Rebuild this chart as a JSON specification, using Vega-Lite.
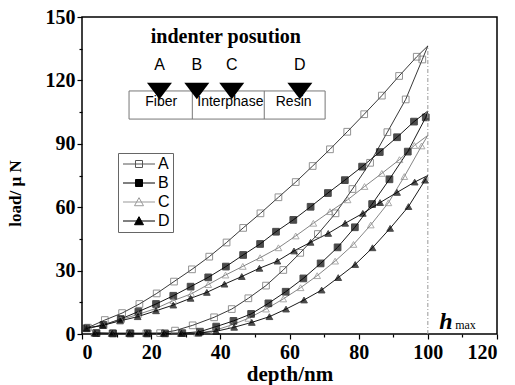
{
  "$schema": "https://vega.github.io/schema/vega-lite/v6.json",
  "width": 415,
  "height": 317,
  "autosize": {"type": "none"},
  "padding": {"left": 82, "top": 17, "right": 18, "bottom": 51},
  "background": "white",
  "config": {
    "view": {"stroke": "black", "strokeWidth": 1.5},
    "axis": {
      "labelFont": "Liberation Serif", "labelFontWeight": "bold", "labelFontSize": 20, "labelColor": "black",
      "tickColor": "black", "tickWidth": 1.2, "grid": false, "domain": false,
      "titleFont": "Liberation Serif", "titleFontWeight": "bold", "titleFontSize": 21, "titleColor": "black"
    }
  },
  "data": {"values": [
    {"s":"A","x":1.7,"y":3.0,"i":0},{"s":"A","x":6.6,"y":6.6,"i":1},{"s":"A","x":11.6,"y":9.9,"i":2},{"s":"A","x":16.6,"y":14.2,"i":3},{"s":"A","x":21.6,"y":19.2,"i":4},{"s":"A","x":26.6,"y":24.8,"i":5},{"s":"A","x":31.8,"y":30.6,"i":6},{"s":"A","x":36.8,"y":36.6,"i":7},{"s":"A","x":41.8,"y":43.3,"i":8},{"s":"A","x":46.6,"y":50.2,"i":9},{"s":"A","x":51.6,"y":57.1,"i":10},{"s":"A","x":56.8,"y":64.7,"i":11},{"s":"A","x":61.8,"y":71.9,"i":12},{"s":"A","x":66.7,"y":79.5,"i":13},{"s":"A","x":71.7,"y":87.4,"i":14},{"s":"A","x":76.7,"y":95.7,"i":15},{"s":"A","x":81.6,"y":104.0,"i":16},{"s":"A","x":86.7,"y":112.8,"i":17},{"s":"A","x":91.7,"y":122.1,"i":18},{"s":"A","x":96.8,"y":131.2,"i":19},{"s":"A","x":100,"y":136.3,"i":20},
    {"s":"A","x":98.4,"y":129.9,"i":21},{"s":"A","x":93.6,"y":111.0,"i":22},{"s":"A","x":88.3,"y":95.5,"i":23},{"s":"A","x":83.3,"y":81.0,"i":24},{"s":"A","x":78.2,"y":68.6,"i":25},{"s":"A","x":73.3,"y":57.1,"i":26},{"s":"A","x":68.2,"y":47.3,"i":27},{"s":"A","x":63.1,"y":38.4,"i":28},{"s":"A","x":58.2,"y":30.3,"i":29},{"s":"A","x":53.2,"y":22.9,"i":30},{"s":"A","x":48.1,"y":16.9,"i":31},{"s":"A","x":43.3,"y":11.8,"i":32},{"s":"A","x":38.2,"y":7.9,"i":33},{"s":"A","x":32.0,"y":4.1,"i":34},{"s":"A","x":26.9,"y":1.6,"i":35},{"s":"A","x":22.6,"y":0.4,"i":36},{"s":"A","x":18.6,"y":0.3,"i":37},{"s":"A","x":13.8,"y":0.3,"i":38},{"s":"A","x":8.8,"y":0.3,"i":39},{"s":"A","x":4.0,"y":0.4,"i":40},
    {"s":"B","x":1.3,"y":2.7,"i":0},{"s":"B","x":6.2,"y":4.3,"i":1},{"s":"B","x":11.2,"y":7.1,"i":2},{"s":"B","x":16.3,"y":10.6,"i":3},{"s":"B","x":21.4,"y":14.2,"i":4},{"s":"B","x":26.4,"y":18.1,"i":5},{"s":"B","x":31.4,"y":22.4,"i":6},{"s":"B","x":36.5,"y":26.8,"i":7},{"s":"B","x":41.6,"y":31.9,"i":8},{"s":"B","x":46.6,"y":37.4,"i":9},{"s":"B","x":51.5,"y":42.6,"i":10},{"s":"B","x":56.1,"y":48.4,"i":11},{"s":"B","x":61.1,"y":54.0,"i":12},{"s":"B","x":66.1,"y":60.2,"i":13},{"s":"B","x":71.1,"y":66.7,"i":14},{"s":"B","x":76.0,"y":72.8,"i":15},{"s":"B","x":81.0,"y":79.2,"i":16},{"s":"B","x":86.1,"y":86.1,"i":17},{"s":"B","x":91.1,"y":93.1,"i":18},{"s":"B","x":96.0,"y":100.5,"i":19},{"s":"B","x":100,"y":105.5,"i":20},
    {"s":"B","x":99.4,"y":102.5,"i":21},{"s":"B","x":94.2,"y":86.3,"i":22},{"s":"B","x":88.9,"y":73.2,"i":23},{"s":"B","x":83.9,"y":61.5,"i":24},{"s":"B","x":78.9,"y":50.5,"i":25},{"s":"B","x":73.9,"y":41.0,"i":26},{"s":"B","x":69.0,"y":33.4,"i":27},{"s":"B","x":64.0,"y":26.3,"i":28},{"s":"B","x":58.9,"y":20.0,"i":29},{"s":"B","x":53.9,"y":14.5,"i":30},{"s":"B","x":48.9,"y":9.5,"i":31},{"s":"B","x":43.8,"y":6.2,"i":32},{"s":"B","x":38.8,"y":3.5,"i":33},{"s":"B","x":34.1,"y":1.1,"i":34},{"s":"B","x":29.0,"y":0.4,"i":35},{"s":"B","x":24.0,"y":0.3,"i":36},{"s":"B","x":19.0,"y":0.3,"i":37},{"s":"B","x":14.0,"y":0.3,"i":38},{"s":"B","x":9.0,"y":0.3,"i":39},{"s":"B","x":4.2,"y":0.4,"i":40},
    {"s":"C","x":1.3,"y":2.7,"i":0},{"s":"C","x":6.2,"y":4.1,"i":1},{"s":"C","x":11.2,"y":6.8,"i":2},{"s":"C","x":16.3,"y":9.3,"i":3},{"s":"C","x":21.4,"y":12.1,"i":4},{"s":"C","x":26.4,"y":15.8,"i":5},{"s":"C","x":31.6,"y":19.0,"i":6},{"s":"C","x":36.5,"y":23.4,"i":7},{"s":"C","x":41.5,"y":27.9,"i":8},{"s":"C","x":46.5,"y":32.0,"i":9},{"s":"C","x":51.5,"y":36.1,"i":10},{"s":"C","x":56.8,"y":40.8,"i":11},{"s":"C","x":61.8,"y":46.4,"i":12},{"s":"C","x":66.9,"y":52.4,"i":13},{"s":"C","x":71.7,"y":57.9,"i":14},{"s":"C","x":76.8,"y":63.5,"i":15},{"s":"C","x":81.7,"y":69.8,"i":16},{"s":"C","x":86.7,"y":76.0,"i":17},{"s":"C","x":91.8,"y":82.5,"i":18},{"s":"C","x":96.1,"y":89.2,"i":19},{"s":"C","x":100,"y":94.0,"i":20},
    {"s":"C","x":98.2,"y":89.0,"i":21},{"s":"C","x":93.2,"y":74.5,"i":22},{"s":"C","x":88.6,"y":62.1,"i":23},{"s":"C","x":83.5,"y":51.6,"i":24},{"s":"C","x":78.5,"y":42.4,"i":25},{"s":"C","x":73.2,"y":34.5,"i":26},{"s":"C","x":68.0,"y":27.6,"i":27},{"s":"C","x":63.2,"y":21.9,"i":28},{"s":"C","x":58.2,"y":16.6,"i":29},{"s":"C","x":53.2,"y":11.8,"i":30},{"s":"C","x":48.1,"y":7.4,"i":31},{"s":"C","x":43.3,"y":4.3,"i":32},{"s":"C","x":38.2,"y":1.6,"i":33},{"s":"C","x":33.3,"y":0.4,"i":34},{"s":"C","x":28.5,"y":0.3,"i":35},{"s":"C","x":23.5,"y":0.3,"i":36},{"s":"C","x":18.5,"y":0.3,"i":37},{"s":"C","x":13.5,"y":0.3,"i":38},{"s":"C","x":8.5,"y":0.3,"i":39},{"s":"C","x":3.5,"y":0.4,"i":40},
    {"s":"D","x":1.3,"y":2.7,"i":0},{"s":"D","x":6.0,"y":4.1,"i":1},{"s":"D","x":11.0,"y":6.2,"i":2},{"s":"D","x":16.1,"y":8.2,"i":3},{"s":"D","x":21.4,"y":11.0,"i":4},{"s":"D","x":26.4,"y":13.7,"i":5},{"s":"D","x":31.4,"y":16.9,"i":6},{"s":"D","x":36.1,"y":19.7,"i":7},{"s":"D","x":41.2,"y":23.6,"i":8},{"s":"D","x":46.2,"y":27.2,"i":9},{"s":"D","x":51.3,"y":31.1,"i":10},{"s":"D","x":56.5,"y":34.5,"i":11},{"s":"D","x":61.3,"y":39.3,"i":12},{"s":"D","x":66.1,"y":43.4,"i":13},{"s":"D","x":71.2,"y":47.6,"i":14},{"s":"D","x":76.1,"y":52.4,"i":15},{"s":"D","x":81.2,"y":57.1,"i":16},{"s":"D","x":86.2,"y":62.2,"i":17},{"s":"D","x":91.1,"y":67.0,"i":18},{"s":"D","x":96.2,"y":71.9,"i":19},{"s":"D","x":100,"y":75.0,"i":20},
    {"s":"D","x":99.2,"y":72.8,"i":21},{"s":"D","x":94.4,"y":60.3,"i":22},{"s":"D","x":89.1,"y":50.0,"i":23},{"s":"D","x":84.0,"y":40.8,"i":24},{"s":"D","x":79.0,"y":32.9,"i":25},{"s":"D","x":74.1,"y":26.7,"i":26},{"s":"D","x":69.3,"y":20.8,"i":27},{"s":"D","x":64.2,"y":16.1,"i":28},{"s":"D","x":59.0,"y":11.8,"i":29},{"s":"D","x":54.2,"y":8.2,"i":30},{"s":"D","x":49.1,"y":5.5,"i":31},{"s":"D","x":44.0,"y":3.2,"i":32},{"s":"D","x":38.8,"y":1.3,"i":33},{"s":"D","x":33.7,"y":0.4,"i":34},{"s":"D","x":28.7,"y":0.3,"i":35},{"s":"D","x":23.7,"y":0.3,"i":36},{"s":"D","x":18.7,"y":0.3,"i":37},{"s":"D","x":13.7,"y":0.3,"i":38},{"s":"D","x":8.7,"y":0.3,"i":39},{"s":"D","x":3.7,"y":0.4,"i":40}
  ]},
  "layer": [
    {
      "mark": {"type": "line", "strokeWidth": 0.9},
      "encoding": {
        "x": {"field": "x", "type": "quantitative", "scale": {"domain": [0, 120], "nice": false},
              "axis": {"values": [0, 20, 40, 60, 80, 100, 120], "title": "depth/nm", "tickSize": 5, "labelPadding": 3, "titleY": 40, "titleBaseline": "middle", "labelOverlap": false}},
        "y": {"field": "y", "type": "quantitative", "scale": {"domain": [0, 150], "nice": false},
              "axis": {"values": [0, 30, 60, 90, 120, 150], "title": "load/ μ N", "titleFontSize": 17, "tickSize": 5, "labelPadding": 2, "titleX": -67, "titleY": 176, "titleAlign": "center", "titleBaseline": "middle", "labelOverlap": false}},
        "color": {"field": "s", "type": "nominal", "scale": {"domain": ["A", "B", "C", "D"], "range": ["#222222", "#000000", "#777777", "#000000"]}, "legend": null},
        "order": {"field": "i", "type": "quantitative"}
      }
    },
    {
      "transform": [{"filter": "datum.x < 100"}],
      "mark": {"type": "point", "filled": true, "strokeWidth": 1},
      "encoding": {
        "x": {"field": "x", "type": "quantitative", "axis": {"orient": "bottom", "values": [10, 30, 50, 70, 90, 110], "labels": false, "tickSize": 3, "title": null}},
        "y": {"field": "y", "type": "quantitative", "axis": {"orient": "left", "values": [15, 45, 75, 105, 135], "labels": false, "tickSize": 3, "title": null}},
        "shape": {"field": "s", "type": "nominal", "scale": {"domain": ["A", "B", "C", "D"], "range": ["square", "square", "triangle-up", "triangle-up"]}, "legend": null},
        "fill": {"field": "s", "type": "nominal", "scale": {"domain": ["A", "B", "C", "D"], "range": ["transparent", "#000000", "transparent", "#000000"]}, "legend": null},
        "stroke": {"field": "s", "type": "nominal", "scale": {"domain": ["A", "B", "C", "D"], "range": ["#666666", "#000000", "#888888", "#000000"]}, "legend": null},
        "size": {"field": "s", "type": "nominal", "scale": {"domain": ["A", "B", "C", "D"], "range": [45, 45, 60, 60]}, "legend": null}
      }
    },
    {
      "transform": [{"filter": "datum.i == 0"}],
      "mark": {"type": "point", "opacity": 0, "filled": true},
      "encoding": {
        "x": {"field": "x", "type": "quantitative", "axis": null},
        "y": {"field": "y", "type": "quantitative", "axis": null},
        "shape": {"field": "s", "type": "nominal",
          "scale": {"domain": ["A", "B", "C", "D"], "range": [
            "M-1,0H4.333M1.083,-0.583H2.25V0.583H1.083Z",
            "M-1,0H4.333M1.083,-0.583H2.25V0.583H1.083Z",
            "M-1,0H4.333M1.667,-0.72L2.417,0.62L0.917,0.62Z",
            "M-1,0H4.333M1.667,-0.72L2.417,0.62L0.917,0.62Z"]},
          "legend": {
            "title": null, "orient": "none", "legendX": 36, "legendY": 136, "direction": "vertical",
            "strokeColor": "#666666", "padding": 3, "rowPadding": 3,
            "symbolSize": 144, "symbolStrokeWidth": 1, "symbolOpacity": 1,
            "labelFont": "Liberation Sans", "labelFontSize": 16, "labelColor": "black", "labelOffset": 21
          }},
        "fill": {"field": "s", "type": "nominal", "scale": {"domain": ["A", "B", "C", "D"], "range": ["transparent", "#000000", "transparent", "#000000"]},
          "legend": {"title": null, "orient": "none", "legendX": 36, "legendY": 136, "direction": "vertical", "symbolSize": 144, "symbolOpacity": 1}},
        "stroke": {"field": "s", "type": "nominal", "scale": {"domain": ["A", "B", "C", "D"], "range": ["#555555", "#000000", "#999999", "#000000"]},
          "legend": {"title": null, "orient": "none", "legendX": 36, "legendY": 136, "direction": "vertical", "symbolSize": 144, "symbolOpacity": 1, "symbolStrokeWidth": 1}}
      }
    },
    {
      "data": {"values": [{}]},
      "mark": {"type": "rule", "stroke": "#999999", "strokeDash": [4, 2, 1, 2], "strokeWidth": 1},
      "encoding": {
        "x": {"datum": 100, "type": "quantitative", "axis": null},
        "y": {"datum": 0, "type": "quantitative", "axis": null},
        "y2": {"datum": 136}
      }
    },
    {
      "data": {"values": [{}]},
      "mark": {"type": "text", "text": "indenter posution", "font": "Liberation Serif", "fontWeight": "bold", "fontSize": 20, "align": "center", "baseline": "alphabetic", "color": "black"},
      "encoding": {
        "x": {"datum": 41.6, "type": "quantitative", "axis": null},
        "y": {"datum": 137.8, "type": "quantitative", "axis": null}
      }
    },
    {
      "data": {"values": [{}]},
      "mark": {"type": "rect", "fill": "transparent", "stroke": "#777777", "strokeWidth": 1},
      "encoding": {
        "x": {"datum": 13.6, "type": "quantitative", "axis": null},
        "x2": {"datum": 70.3},
        "y": {"datum": 101.7, "type": "quantitative", "axis": null},
        "y2": {"datum": 115}
      }
    },
    {
      "data": {"values": [{}]},
      "mark": {"type": "rule", "stroke": "#777777", "strokeWidth": 1},
      "encoding": {
        "x": {"datum": 31.9, "type": "quantitative", "axis": null},
        "y": {"datum": 101.7, "type": "quantitative", "axis": null},
        "y2": {"datum": 115}
      }
    },
    {
      "data": {"values": [{}]},
      "mark": {"type": "rule", "stroke": "#777777", "strokeWidth": 1},
      "encoding": {
        "x": {"datum": 52.7, "type": "quantitative", "axis": null},
        "y": {"datum": 101.7, "type": "quantitative", "axis": null},
        "y2": {"datum": 115}
      }
    },
    {
      "data": {"values": [{"t": "Fiber", "px": 22.9}, {"t": "Interphase", "px": 42.9}, {"t": "Resin", "px": 61.2}]},
      "mark": {"type": "text", "font": "Liberation Sans", "fontSize": 14, "align": "center", "baseline": "alphabetic", "color": "black"},
      "encoding": {
        "x": {"field": "px", "type": "quantitative", "axis": null},
        "y": {"datum": 107.7, "type": "quantitative", "axis": null},
        "text": {"field": "t"}
      }
    },
    {
      "data": {"values": [{"k": "A", "px": 22.4}, {"k": "B", "px": 33.2}, {"k": "C", "px": 43.3}, {"k": "D", "px": 63.0}]},
      "layer": [
        {
          "mark": {"type": "point", "shape": "M-1,-0.66L1,-0.66L0,0.66Z", "size": 625, "filled": true, "fill": "black", "stroke": null, "opacity": 1},
          "encoding": {
            "x": {"field": "px", "type": "quantitative", "axis": null},
            "y": {"datum": 115, "type": "quantitative", "axis": null}
          }
        },
        {
          "mark": {"type": "text", "font": "Liberation Sans", "fontSize": 16, "align": "center", "baseline": "alphabetic", "color": "black"},
          "encoding": {
            "x": {"field": "px", "type": "quantitative", "axis": null},
            "y": {"datum": 124.9, "type": "quantitative", "axis": null},
            "text": {"field": "k"}
          }
        }
      ]
    },
    {
      "data": {"values": [{}]},
      "mark": {"type": "text", "text": "h", "font": "Liberation Serif", "fontWeight": "bold", "fontStyle": "italic", "fontSize": 24, "align": "left", "baseline": "alphabetic", "color": "black"},
      "encoding": {
        "x": {"datum": 103.3, "type": "quantitative", "axis": null},
        "y": {"datum": 2.4, "type": "quantitative", "axis": null}
      }
    },
    {
      "data": {"values": [{}]},
      "mark": {"type": "text", "text": "max", "font": "Liberation Serif", "fontSize": 12, "align": "left", "baseline": "alphabetic", "color": "black"},
      "encoding": {
        "x": {"datum": 107.9, "type": "quantitative", "axis": null},
        "y": {"datum": 2.4, "type": "quantitative", "axis": null}
      }
    }
  ],
  "resolve": {
    "scale": {"shape": "independent", "fill": "independent", "stroke": "independent"},
    "legend": {"shape": "independent", "fill": "independent", "stroke": "independent"},
    "axis": {"x": "independent", "y": "independent"}
  }
}
